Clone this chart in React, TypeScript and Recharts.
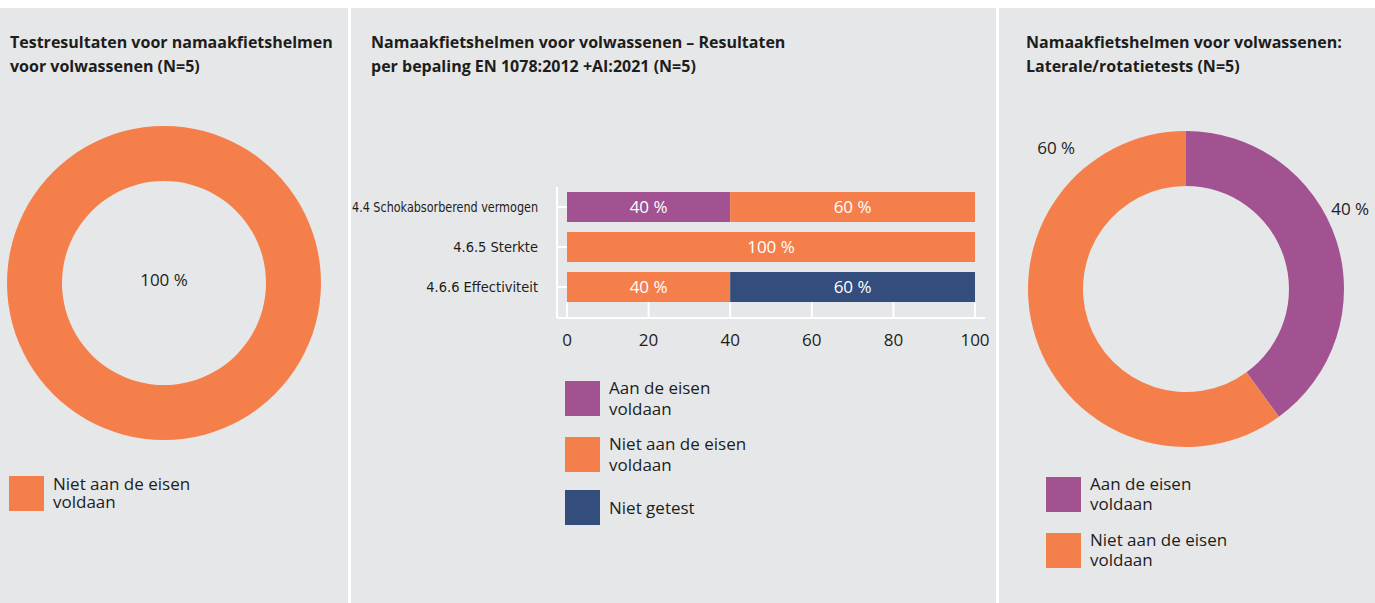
import React from "react";
import { BarChart, Bar, XAxis, YAxis, LabelList, PieChart, Pie, Cell } from "recharts";

// Panel 2: results per requirement (percent of 5 helmets)
const categories = ["4.4 Schokabsorberend vermogen", "4.6.5 Sterkte", "4.6.6 Effectiviteit"];
const aanDeEisen = [40, 0, 0];
const nietAanDeEisen = [60, 100, 40];
const nietGetest = [0, 0, 60];
const xTicks = [0, 20, 40, 60, 80, 100];

// Panel 1: overall results
const overallNames = ["Niet aan de eisen voldaan"];
const overallValues = [100];

// Panel 3: lateral / rotation tests
const lateralNames = ["Aan de eisen voldaan", "Niet aan de eisen voldaan"];
const lateralValues = [40, 60];

const PURPLE = "#a25191";
const ORANGE = "#f57f4b";
const NAVY = "#334d7c";
const BG = "#e6e7e9";
const TEXT = "#1d1d1b";
const SANS = "'Open Sans', sans-serif";
const TITLE_FONT = "'Open Sans', sans-serif";
const NARROW = "'DejaVu Sans Condensed', 'Liberation Sans Narrow', 'DejaVu Sans', sans-serif";
const TICK_SIZE = 14.5;

const barData = categories.map((name, i) => ({
  name,
  aan: aanDeEisen[i],
  niet: nietAanDeEisen[i],
  getest: nietGetest[i],
}));
const overallData = overallNames.map((name, i) => ({ name, value: overallValues[i] }));
const lateralData = lateralNames.map((name, i) => ({ name, value: lateralValues[i] }));

const pct = (v: any) => (v ? `${v} %` : "");

// where the outside labels of the right donut sit (angle in degrees, radius in px)
const LATERAL_LABEL_POS = [
  { angle: 29, radius: 166 },
  { angle: 128, radius: 180 },
];

let measureCtx: CanvasRenderingContext2D | null = null;
const textWidth = (t: string, font: string) => {
  if (!measureCtx) measureCtx = document.createElement("canvas").getContext("2d");
  if (!measureCtx) return 0;
  measureCtx.font = font;
  return measureCtx.measureText(t).width;
};

const renderLateralLabel = (props: any) => {
  const { cx, cy, index, value } = props;
  const p = LATERAL_LABEL_POS[index];
  const rad = (p.angle * Math.PI) / 180;
  const x = cx + p.radius * Math.cos(rad);
  const y = cy - p.radius * Math.sin(rad);
  return (
    <text
      x={x}
      y={y}
      textAnchor={Math.cos(rad) >= 0 ? "start" : "end"}
      dominantBaseline="central"
      fill={TEXT}
      fontSize={17}
      fontFamily={SANS}
    >
      {value} %
    </text>
  );
};

const renderCenterLabel = (props: any) => {
  const { cx, cy, value } = props;
  return (
    <text x={cx} y={cy - 4} textAnchor="middle" dominantBaseline="central" fill={TEXT} fontSize={17} fontFamily={SANS}>
      {value} %
    </text>
  );
};

// plain text tick, squeezed only when it would run past the left edge
const CategoryTick = (props: any) => {
  const { x, y, payload } = props;
  const label = String(payload.value);
  const room = x - 1;
  const w = textWidth(label, `${TICK_SIZE}px ${NARROW}`);
  const fit = w > room ? { textLength: room, lengthAdjust: "spacingAndGlyphs" } : {};
  return (
    <text
      x={x}
      y={y}
      textAnchor="end"
      dominantBaseline="central"
      fill={TEXT}
      fontSize={TICK_SIZE}
      fontFamily={NARROW}
      {...fit}
    >
      {label}
    </text>
  );
};

const Title = ({ lines, left }: { lines: string[]; left: number }) => (
  <div
    style={{
      position: "absolute",
      left,
      top: 22,
      fontFamily: TITLE_FONT,
      fontWeight: 700,
      fontSize: 16,
      lineHeight: "24px",
      color: TEXT,
      whiteSpace: "nowrap",
    }}
  >
    {lines.map((l) => (
      <div key={l}>{l}</div>
    ))}
  </div>
);

const LegendItem = ({ color, label, left, top, lineHeight = 20 }: any) => (
  <div style={{ position: "absolute", left, top, display: "flex", alignItems: "center" }}>
    <div style={{ width: 35, height: 35, background: color, flex: "none" }} />
    <div
      style={{
        marginLeft: 9,
        width: 145,
        fontFamily: SANS,
        fontSize: 17,
        lineHeight: `${lineHeight}px`,
        color: TEXT,
      }}
    >
      {label}
    </div>
  </div>
);

const panel = (left: number, width: number): React.CSSProperties => ({
  position: "absolute",
  left,
  top: 8,
  width,
  height: 595,
  background: BG,
  overflow: "hidden",
});

export default function App() {
  return (
    <div style={{ position: "relative", width: 1375, height: 603, background: "#fff", overflow: "hidden" }}>
      <style>{"body{margin:0}"}</style>

      {/* left: overall donut */}
      <div style={panel(0, 348)}>
        <Title left={10} lines={["Testresultaten voor namaakfietshelmen", "voor volwassenen (N=5)"]} />
        <div style={{ position: "absolute", left: 0, top: 0 }}>
          <PieChart width={348} height={595} margin={{ top: 0, right: 0, bottom: 0, left: 0 }}>
            <Pie
              data={overallData}
              dataKey="value"
              cx={164}
              cy={275}
              innerRadius={102}
              outerRadius={157}
              startAngle={90}
              endAngle={-270}
              stroke="none"
              label={renderCenterLabel}
              labelLine={false}
              isAnimationActive={false}
            >
              <Cell fill={ORANGE} />
            </Pie>
          </PieChart>
        </div>
        <LegendItem color={ORANGE} label={overallNames[0]} left={9} top={467} lineHeight={18} />
      </div>

      {/* middle: stacked bars */}
      <div style={panel(351, 645)}>
        <Title left={20} lines={["Namaakfietshelmen voor volwassenen – Resultaten", "per bepaling EN 1078:2012 +AI:2021 (N=5)"]} />
        <div style={{ position: "absolute", left: 0, top: 162 }}>
          <BarChart
            layout="vertical"
            width={645}
            height={200}
            data={barData}
            margin={{ top: 17, right: 11, bottom: 22, left: 0 }}
            barSize={30}
          >
            <XAxis
              type="number"
              domain={[0, 100]}
              ticks={xTicks}
              interval={0}
              padding={{ left: 10, right: 10 }}
              height={30}
              axisLine={{ stroke: "#fff", strokeWidth: 2 }}
              tickLine={{ stroke: "#fff", strokeWidth: 2 }}
              tickSize={-16}
              tickMargin={32}
              tick={{ fill: TEXT, fontSize: 17, fontFamily: SANS }}
            />
            <YAxis
              type="category"
              dataKey="name"
              width={206}
              interval={0}
              padding={{ top: 0, bottom: 11 }}
              axisLine={{ stroke: "#fff", strokeWidth: 2 }}
              tickLine={{ stroke: "#fff", strokeWidth: 2 }}
              tickSize={-10}
              tickMargin={29}
              tick={<CategoryTick />}
            />
            <Bar dataKey="aan" stackId="s" fill={PURPLE} isAnimationActive={false}>
              <LabelList dataKey="aan" position="center" formatter={pct} fill="#fff" fontSize={17} fontFamily={SANS} />
            </Bar>
            <Bar dataKey="niet" stackId="s" fill={ORANGE} isAnimationActive={false}>
              <LabelList dataKey="niet" position="center" formatter={pct} fill="#fff" fontSize={17} fontFamily={SANS} />
            </Bar>
            <Bar dataKey="getest" stackId="s" fill={NAVY} isAnimationActive={false}>
              <LabelList dataKey="getest" position="center" formatter={pct} fill="#fff" fontSize={17} fontFamily={SANS} />
            </Bar>
          </BarChart>
        </div>
        <LegendItem color={PURPLE} label="Aan de eisen voldaan" left={214} top={369} lineHeight={21} />
        <LegendItem color={ORANGE} label="Niet aan de eisen voldaan" left={214} top={425} lineHeight={21} />
        <LegendItem color={NAVY} label="Niet getest" left={214} top={482} lineHeight={21} />
      </div>

      {/* right: lateral / rotation donut */}
      <div style={panel(999, 376)}>
        <Title left={27} lines={["Namaakfietshelmen voor volwassenen:", "Laterale/rotatietests (N=5)"]} />
        <div style={{ position: "absolute", left: 0, top: 0 }}>
          <PieChart width={376} height={595} margin={{ top: 0, right: 0, bottom: 0, left: 0 }}>
            <Pie
              data={lateralData}
              dataKey="value"
              cx={187}
              cy={281}
              innerRadius={103}
              outerRadius={158}
              startAngle={90}
              endAngle={-270}
              stroke="none"
              label={renderLateralLabel}
              labelLine={false}
              isAnimationActive={false}
            >
              <Cell fill={PURPLE} />
              <Cell fill={ORANGE} />
            </Pie>
          </PieChart>
        </div>
        <LegendItem color={PURPLE} label={lateralNames[0]} left={47} top={466} />
        <LegendItem color={ORANGE} label={lateralNames[1]} left={47} top={522} />
      </div>
    </div>
  );
}
